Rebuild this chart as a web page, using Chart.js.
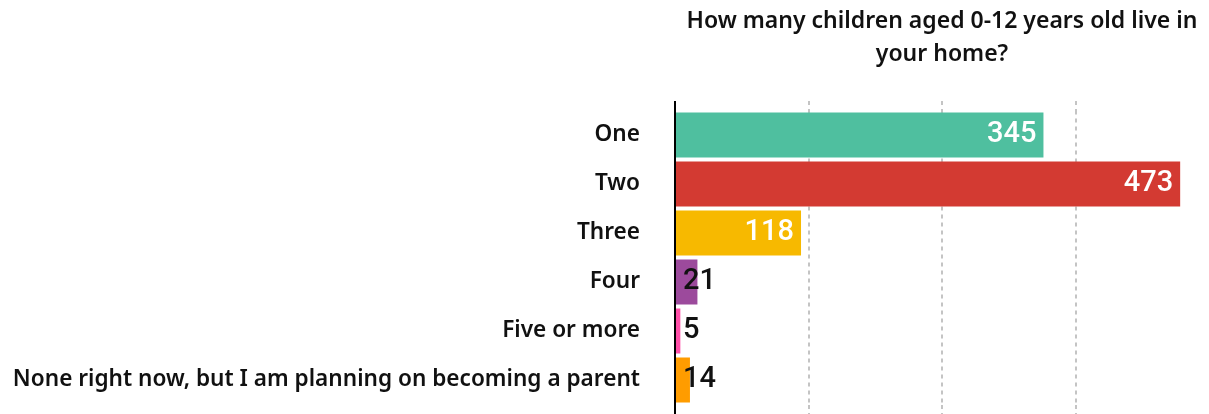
<!DOCTYPE html>
<html>
<head>
<meta charset="utf-8">
<script src="https://cdn.jsdelivr.net/npm/chart.js@4/dist/chart.umd.min.js"></script>
<style>
  html, body { margin: 0; padding: 0; background: #ffffff; overflow: hidden; }
  #wrap { width: 1209px; height: 414px; position: relative; }
</style>
</head>
<body>
<div id="wrap"><canvas id="c"></canvas></div>
<script>
const categories = ["One", "Two", "Three", "Four", "Five or more", "None right now, but I am planning on becoming a parent"];
const counts = [345, 473, 118, 21, 5, 14];
const barColors = ["#4fbf9f", "#d33a32", "#f7b900", "#9c4a9c", "#ff4fa8", "#ff9c00"];
const titleLines = ["How many children aged 0-12 years old live in", "your home?"];
const gridTicks = [0, 125, 250, 375];

const valueLabels = {
  id: 'valueLabels',
  afterDatasetsDraw(chart) {
    const ctx = chart.ctx;
    const meta = chart.getDatasetMeta(0);
    ctx.save();
    ctx.font = '500 29px Roboto';
    ctx.textBaseline = 'middle';
    meta.data.forEach((bar, i) => {
      const txt = String(counts[i]);
      const w = ctx.measureText(txt).width;
      const barW = bar.x - bar.base;
      if (barW > w + 16) {
        ctx.fillStyle = '#ffffff';
        ctx.textAlign = 'right';
        ctx.fillText(txt, bar.x - 7, bar.y);
      } else {
        ctx.fillStyle = '#111111';
        ctx.textAlign = 'left';
        ctx.fillText(txt, bar.base + 7, bar.y);
      }
    });
    ctx.restore();
  }
};

const isZero = (c) => c.tick && c.tick.value === 0;

const gridCfg = (len, onArea) => ({
  drawOnChartArea: onArea,
  drawTicks: true,
  tickLength: len,
  color: (c) => isZero(c) ? '#000000' : '#c4c4c4',
  lineWidth: 2,
  tickColor: (c) => isZero(c) ? '#000000' : '#c4c4c4',
  tickWidth: 2,
  tickBorderDash: (c) => isZero(c) ? [] : [4, 4],
});

new Chart(document.getElementById('c'), {
  type: 'bar',
  data: {
    labels: categories,
    datasets: [{
      data: counts,
      backgroundColor: barColors,
      borderWidth: 0,
      barPercentage: 0.92,
      categoryPercentage: 1.0
    }]
  },
  plugins: [valueLabels],
  options: {
    indexAxis: 'y',
    responsive: true,
    maintainAspectRatio: false,
    animation: false,
    layout: { padding: { left: 0, right: 0, top: 0, bottom: 0 } },
    plugins: {
      legend: { display: false },
      tooltip: { enabled: false },
      title: {
        display: true,
        text: titleLines,
        fullSize: false,
        color: '#111111',
        font: { family: 'Noto Sans', size: 23, weight: '600', lineHeight: 1.45 },
        padding: { top: 4.6, bottom: 29.7 }
      }
    },
    scales: {
      x: {
        type: 'linear',
        position: 'bottom',
        min: 0,
        max: 500,
        afterBuildTicks: (s) => { s.ticks = gridTicks.map(v => ({ value: v })); },
        ticks: { display: false },
        grid: gridCfg(9.5, true),
        border: { display: false, dash: (c) => isZero(c) ? [] : [4, 4] }
      },
      x2: {
        type: 'linear',
        position: 'top',
        min: 0,
        max: 500,
        afterBuildTicks: (s) => { s.ticks = gridTicks.map(v => ({ value: v })); },
        ticks: { display: false },
        grid: gridCfg(9.5, false),
        border: { display: false }
      },
      y: {
        type: 'category',
        afterFit: (s) => { s.width = 675; },
        grid: { display: true, drawOnChartArea: false, drawTicks: true, tickLength: 35, tickColor: 'rgba(0,0,0,0)' },
        border: { display: false },
        ticks: {
          color: '#111111',
          padding: 0,
          font: { family: 'Noto Sans', size: 22.6, weight: '600', lineHeight: 0.8 }
        }
      }
    }
  }
});
</script>
</body>
</html>
